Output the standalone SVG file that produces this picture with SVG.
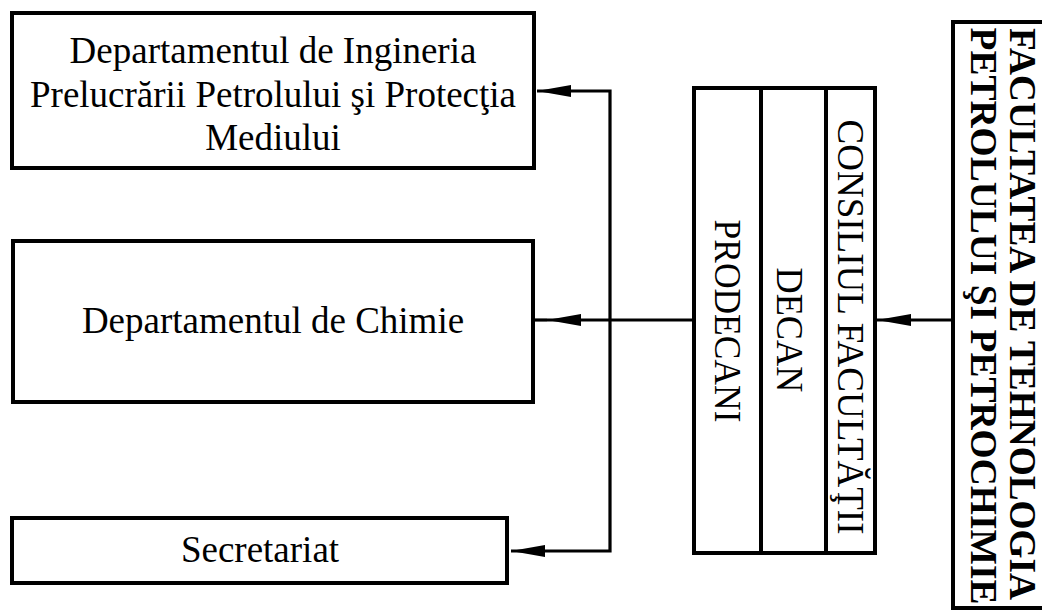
<svg xmlns="http://www.w3.org/2000/svg" width="1042" height="613" viewBox="0 0 1042 613">
<style>
.box{fill:#fff;stroke:#000;stroke-width:4}
.con{fill:none;stroke:#000;stroke-width:3.2}
.t{font-size:37px;fill:#000;text-anchor:middle}
.b{font-weight:bold}
</style>
<defs>
<marker id="ah" markerUnits="userSpaceOnUse" viewBox="0 0 34 12" refX="34" refY="6" markerWidth="34" markerHeight="12" orient="auto">
<path d="M34,6 L0,0 L0,12 Z" fill="#000"/>
</marker>
</defs>
<rect width="1042" height="613" fill="#fff"/>
<g id="connectors">
<path class="con" d="M953,320 H877" marker-end="url(#ah)"/>
<path class="con" d="M694,320 H547" marker-end="url(#ah)"/>
<path class="con" d="M547,320 H533"/>
<path class="con" d="M610,320 V91 H537" marker-end="url(#ah)"/>
<path class="con" d="M610,320 V551 H511" marker-end="url(#ah)"/>
</g>
<g font-family="Liberation Serif, DejaVu Serif, serif">
<g id="facultatea">
<rect class="box" x="953" y="22" width="100" height="586"/>
<text class="t b" transform="translate(1010,314) rotate(90)" textLength="572" lengthAdjust="spacingAndGlyphs">FACULTATEA DE TEHNOLOGIA</text>
<text class="t b" transform="translate(971,316) rotate(90)" textLength="577" lengthAdjust="spacingAndGlyphs">PETROLULUI ŞI PETROCHIMIE</text>
</g>
<g id="conducere">
<rect class="box" x="694" y="88" width="181" height="465"/>
<line class="box" x1="761" y1="88" x2="761" y2="553"/>
<line class="box" x1="826" y1="88" x2="826" y2="553"/>
</g>
<g id="consiliul">
<text class="t" transform="translate(838,327) rotate(90)" textLength="415" lengthAdjust="spacingAndGlyphs">CONSILIUL FACULTĂŢII</text>
</g>
<g id="decan">
<text class="t" transform="translate(777,330) rotate(90)" textLength="125" lengthAdjust="spacingAndGlyphs">DECAN</text>
</g>
<g id="prodecani">
<text class="t" transform="translate(715,321) rotate(90)" textLength="203" lengthAdjust="spacingAndGlyphs">PRODECANI</text>
</g>
<g id="dep-ingineria">
<rect class="box" x="12" y="13" width="522" height="155"/>
<text class="t" x="273" y="63">Departamentul de Ingineria</text>
<text class="t" x="273" y="107">Prelucrării Petrolului şi Protecţia</text>
<text class="t" x="273" y="150">Mediului</text>
</g>
<g id="dep-chimie">
<rect class="box" x="13" y="241" width="520" height="161"/>
<text class="t" x="273" y="333">Departamentul de Chimie</text>
</g>
<g id="secretariat">
<rect class="box" x="12" y="518" width="495" height="65"/>
<text class="t" x="260" y="562">Secretariat</text>
</g>
</g>
</svg>
